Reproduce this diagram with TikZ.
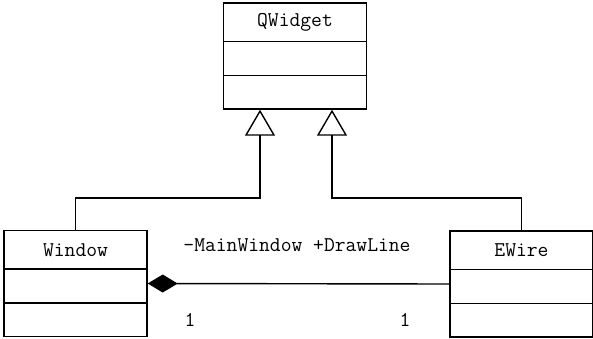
\documentclass[tikz,border=0pt]{standalone}
\usepackage{tikz}
\usetikzlibrary{arrows.meta,positioning,calc}
\newcommand{\umlfont}{\fontsize{21}{22}\selectfont\ttfamily}
\tikzset{
  cls/.style={draw,line width=1.4pt,minimum width=143pt,minimum height=106pt,inner sep=0pt},
  cname/.style={font=\umlfont,inner sep=0pt},
  inherit/.style={-{Triangle[open,length=26pt,width=30pt]},line width=1.4pt},
  compose/.style={{Diamond[length=30pt,width=18pt]}-,line width=1.4pt},
  rolelab/.style={font=\umlfont,inner sep=0pt},
}

\begin{document}
\begin{tikzpicture}[x=1pt,y=-1pt]
  \useasboundingbox (0,0) rectangle (593,339);
  % classes
  \node[cls](qw) at (295,56){};
  \node[cls](win) at (75.5,283.5){};
  \node[cls](ew) at (521.5,284){};
  \foreach \c/\t in {qw/QWidget,win/Window,ew/EWire}{
    \node[cname] at ($(\c.north)+(0,20)$) {\t};
    \foreach \d in {39,73}
      \draw[line width=1.4pt] ($(\c.north west)+(0,\d)$) -- ($(\c.north east)+(0,\d)$);
  }
  % generalisation
  \coordinate (kneeL) at (260,198);
  \coordinate (kneeR) at (332,198);
  \draw[inherit](win.north) |- (kneeL) -- (kneeL |- qw.south);
  \draw[inherit](ew.north) |- (kneeR) -- (kneeR |- qw.south);
  % composition
  \draw[compose](win.east) -- (ew.west);
  \node[rolelab] at (297,245) {-MainWindow +DrawLine};
  \node[rolelab] at (190,320) {1};
  \node[rolelab] at (405,320) {1};
\end{tikzpicture}
\end{document}
